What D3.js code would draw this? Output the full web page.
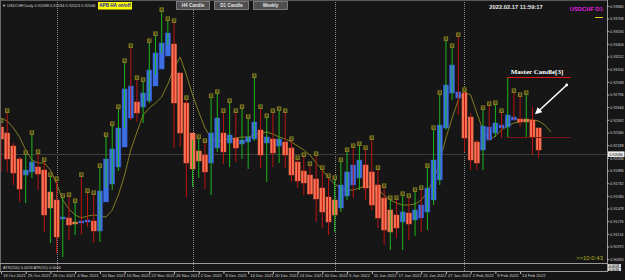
<!DOCTYPE html>
<html>
<head>
<meta charset="utf-8">
<script src="https://cdn.jsdelivr.net/npm/d3@7"></script>
<style>
html, body { margin: 0; padding: 0; background: #161616; }
svg { display: block; }
</style>
</head>
<body>
<div id="chart"></div>
<script>
// daily USDCHF bars, Heiken Ashi bodies + real high/low wicks
var haOpen = [
    0.92406, 0.92334, 0.92178, 0.92022, 0.91830, 0.91866, 0.91926, 0.91890, 0.91626, 0.91530,
    0.91302, 0.91314, 0.91266, 0.91254, 0.91266, 0.91278, 0.91158, 0.91506, 0.91722, 0.91926,
    0.92166, 0.92514, 0.92706, 0.92646, 0.92718, 0.92898, 0.93102, 0.93258, 0.93402, 0.93054,
    0.92694, 0.92334, 0.92118, 0.92070, 0.91974, 0.92154, 0.92334, 0.92214, 0.92274, 0.92202,
    0.92226, 0.92262, 0.92370, 0.92214, 0.92262, 0.92178, 0.92226, 0.92154, 0.91986, 0.91878,
    0.91830, 0.91782, 0.91674, 0.91566, 0.91530, 0.91434, 0.91578, 0.91710, 0.91794, 0.91950,
    0.91866, 0.91710, 0.91554, 0.91410, 0.91350, 0.91266, 0.91374, 0.91290, 0.91314, 0.91386,
    0.91530, 0.91770, 0.92394, 0.92814, 0.92754, 0.92814, 0.92526, 0.92226, 0.92130, 0.92250,
    0.92334, 0.92394, 0.92406, 0.92490, 0.92502, 0.92502, 0.92490, 0.92394
];
var haClose = [
    0.92262, 0.92022, 0.91854, 0.91662, 0.91890, 0.91986, 0.91842, 0.91350, 0.91434, 0.91086,
    0.91326, 0.91230, 0.91242, 0.91278, 0.91290, 0.91158, 0.91638, 0.92022, 0.92142, 0.92394,
    0.92862, 0.92898, 0.92574, 0.92814, 0.93090, 0.93294, 0.93414, 0.93534, 0.92694, 0.92334,
    0.91974, 0.91902, 0.91998, 0.91866, 0.92334, 0.92514, 0.92106, 0.92310, 0.92154, 0.92250,
    0.92286, 0.92466, 0.92070, 0.92286, 0.92094, 0.92262, 0.92070, 0.91830, 0.91758, 0.91734,
    0.91602, 0.91542, 0.91386, 0.91266, 0.91350, 0.91710, 0.91866, 0.91950, 0.92010, 0.91674,
    0.91470, 0.91314, 0.91170, 0.91146, 0.91194, 0.91386, 0.91242, 0.91410, 0.91470, 0.91674,
    0.92010, 0.92430, 0.92910, 0.93150, 0.92826, 0.92274, 0.92010, 0.91974, 0.92418, 0.92406,
    0.92454, 0.92430, 0.92550, 0.92526, 0.92466, 0.92466, 0.92286, 0.92130
];
var barHigh = [
    0.92454, 0.92574, 0.92214, 0.92046, 0.92070, 0.92310, 0.92082, 0.91986, 0.91806, 0.91758,
    0.91554, 0.91566, 0.91494, 0.91806, 0.91614, 0.91590, 0.91914, 0.92286, 0.92418, 0.92622,
    0.93174, 0.93354, 0.92970, 0.92946, 0.93414, 0.93498, 0.93786, 0.93678, 0.93654, 0.93054,
    0.92730, 0.92250, 0.92262, 0.92214, 0.92754, 0.92802, 0.92574, 0.92694, 0.92574, 0.92622,
    0.92502, 0.92994, 0.92622, 0.92514, 0.92574, 0.92598, 0.92574, 0.92238, 0.92010, 0.92046,
    0.91938, 0.92058, 0.91890, 0.91794, 0.91770, 0.91986, 0.92106, 0.92154, 0.92178, 0.92130,
    0.92250, 0.91890, 0.91674, 0.91530, 0.91530, 0.91578, 0.91554, 0.91626, 0.91650, 0.91914,
    0.92370, 0.92790, 0.93438, 0.93354, 0.93486, 0.92826, 0.92574, 0.92250, 0.92610, 0.92658,
    0.92670, 0.92574, 0.93006, 0.92814, 0.92766, 0.92790, 0.92646, 0.92394
];
var barLow = [
    0.91866, 0.91866, 0.91710, 0.91506, 0.91494, 0.91794, 0.91650, 0.91146, 0.91014, 0.90894,
    0.90846, 0.91050, 0.91110, 0.91110, 0.91206, 0.91014, 0.91026, 0.91674, 0.91650, 0.91878,
    0.92394, 0.92490, 0.92466, 0.92454, 0.92694, 0.93030, 0.93294, 0.93390, 0.92154, 0.92166,
    0.91566, 0.91686, 0.91794, 0.91662, 0.91590, 0.92106, 0.91962, 0.91926, 0.91986, 0.92022,
    0.91902, 0.92238, 0.91914, 0.91746, 0.91926, 0.91974, 0.91914, 0.91746, 0.91674, 0.91590,
    0.91590, 0.91266, 0.91194, 0.91110, 0.91146, 0.91386, 0.91530, 0.91554, 0.91650, 0.91530,
    0.91410, 0.91194, 0.90990, 0.90930, 0.91074, 0.90930, 0.91050, 0.91098, 0.91146, 0.91170,
    0.91470, 0.91710, 0.92370, 0.92730, 0.92550, 0.92106, 0.91890, 0.91890, 0.91890, 0.92250,
    0.92286, 0.92274, 0.92286, 0.92490, 0.92406, 0.92286, 0.92070, 0.92034
];
// g = green wick, r = red wick
var wickDir = ("rrrrggrrgr" + "grgrrrgggg" + "grrgggggrr" + "rggrggrgrg" + "ggrgrgrrrr" +
               "rrrrgggrgr" + "rrrgrgrgrg" + "ggggrrrrgr" + "grgrrgrr").split("");
var hasTag = [
    1, 1, 0, 0, 1, 1, 1, 1, 1, 1,
    1, 1, 1, 1, 1, 1, 1, 1, 1, 1,
    1, 1, 1, 1, 1, 1, 1, 1, 1, 0,
    1, 0, 1, 1, 1, 1, 1, 1, 1, 1,
    1, 1, 1, 1, 1, 1, 1, 1, 1, 1,
    1, 1, 1, 1, 1, 1, 1, 1, 1, 1,
    1, 1, 1, 1, 1, 1, 1, 1, 1, 1,
    1, 1, 1, 1, 1, 1, 0, 0, 1, 1,
    1, 1, 0, 1, 1, 1, 0, 0
];
var maValues = [
    0.92514, 0.92478, 0.92394, 0.92286, 0.92130, 0.92010, 0.91974, 0.91974, 0.91890, 0.91722,
    0.91530, 0.91422, 0.91350, 0.91314, 0.91338, 0.91350, 0.91338, 0.91326, 0.91410, 0.91590,
    0.91830, 0.92130, 0.92346, 0.92550, 0.92634, 0.92694, 0.92766, 0.92922, 0.93114, 0.93246,
    0.93030, 0.92790, 0.92586, 0.92394, 0.92274, 0.92226, 0.92250, 0.92262, 0.92274, 0.92286,
    0.92286, 0.92310, 0.92334, 0.92346, 0.92322, 0.92286, 0.92262, 0.92226, 0.92178, 0.92130,
    0.92070, 0.91974, 0.91890, 0.91794, 0.91722, 0.91674, 0.91650, 0.91650, 0.91674, 0.91698,
    0.91686, 0.91650, 0.91590, 0.91530, 0.91494, 0.91470, 0.91470, 0.91482, 0.91530, 0.91626,
    0.91770, 0.91986, 0.92274, 0.92514, 0.92730, 0.92826, 0.92790, 0.92574, 0.92370, 0.92250,
    0.92298, 0.92370, 0.92418, 0.92454, 0.92466, 0.92490, 0.92490, 0.92478, 0.92430, 0.92346
];

var dateLabels = ["19 Oct 2021", "25 Oct 2021", "29 Oct 2021", "4 Nov 2021", "10 Nov 2021",
    "16 Nov 2021", "22 Nov 2021", "26 Nov 2021", "2 Dec 2021", "8 Dec 2021", "14 Dec 2021",
    "20 Dec 2021", "24 Dec 2021", "30 Dec 2021", "5 Jan 2022", "11 Jan 2022", "17 Jan 2022",
    "21 Jan 2022", "27 Jan 2022", "2 Feb 2022", "8 Feb 2022", "14 Feb 2022"];
var dateLabelStep = 4;
var monthStarts = [9, 31, 54, 75];
var priceTicks = [0.93860, 0.93708, 0.93556, 0.93404, 0.93252, 0.93100, 0.92948, 0.92796,
    0.92644, 0.92492, 0.92340, 0.92188, 0.92036, 0.91884, 0.91732, 0.91580, 0.91428,
    0.91276, 0.91124, 0.90972, 0.90820];
var bidPrice = 0.92080;
var masterIndex = 82;
var atrValues = ["0.0058", "0.0046"];

var width = 625, height = 280;
var plotRight = 607, mainBottom = 263, subBottom = 271;
var upBody = "#3f6fe4", downBody = "#fb7656";
var upWick = "#1cb81c", downWick = "#bb1212";

var svg = d3.select("#chart").append("svg")
    .attr("width", width)
    .attr("height", height)
    .style("font-family", "'Liberation Sans', Arial, sans-serif");

svg.append("rect").attr("width", width).attr("height", height).attr("fill", "#161616");

var xScale = d3.scaleLinear().domain([0, 98]).range([1, 606.6]);
var yScale = d3.scaleLinear().domain([0.93930, 0.90930]).range([0, 250]);

var bars = haOpen.map(function (o, i) {
    return {i: i, open: o, close: haClose[i], high: barHigh[i], low: barLow[i], dir: wickDir[i], tag: hasTag[i]};
});

var defs = svg.append("defs");
defs.append("clipPath").attr("id", "mainClip")
    .append("rect").attr("x", 0).attr("y", 0).attr("width", plotRight).attr("height", mainBottom);
defs.append("marker")
    .attr("id", "arrowHead")
    .attr("markerUnits", "userSpaceOnUse")
    .attr("markerWidth", 7).attr("markerHeight", 7)
    .attr("refX", 5).attr("refY", 3.5)
    .attr("orient", "auto")
    .append("path").attr("d", "M0,0 L7,3.5 L0,7 Z").attr("fill", "#ffffff");

// period separators (first bar of each month)
svg.selectAll(".sep").data(monthStarts).enter().append("line")
    .attr("class", "sep")
    .attr("x1", function (d) { return Math.round(xScale(d)) + 0.5; })
    .attr("x2", function (d) { return Math.round(xScale(d)) + 0.5; })
    .attr("y1", 0).attr("y2", subBottom)
    .attr("stroke", "#8a8a8a").attr("stroke-width", 1).attr("stroke-dasharray", "1,1");

var main = svg.append("g").attr("clip-path", "url(#mainClip)");

// bid line
main.append("line")
    .attr("x1", 0).attr("x2", plotRight)
    .attr("y1", Math.round(yScale(bidPrice)) + 0.5).attr("y2", Math.round(yScale(bidPrice)) + 0.5)
    .attr("stroke", "#3d3d3d").attr("stroke-width", 1);

// moving average
var maLine = d3.line()
    .x(function (d, i) { return xScale(i); })
    .y(function (d) { return yScale(d); });
main.append("path").datum(maValues)
    .attr("d", maLine)
    .attr("fill", "none").attr("stroke", "#8e8822").attr("stroke-width", 0.9);

// HA bodies
main.selectAll(".body").data(bars).enter().append("rect")
    .attr("class", "body")
    .attr("x", function (d) { return xScale(d.i) - 2.5; })
    .attr("width", 5)
    .attr("y", function (d) { return yScale(Math.max(d.open, d.close)); })
    .attr("height", function (d) { return Math.max(1.2, Math.abs(yScale(d.open) - yScale(d.close))); })
    .attr("fill", function (d) { return d.close >= d.open ? upBody : downBody; })
    .attr("stroke", function (d) { return d.close >= d.open ? "#2f5bcc" : "#e2603f"; })
    .attr("stroke-width", 0.5);

// wicks
main.selectAll(".wick").data(bars).enter().append("line")
    .attr("class", "wick")
    .attr("x1", function (d) { return xScale(d.i); })
    .attr("x2", function (d) { return xScale(d.i); })
    .attr("y1", function (d) { return yScale(d.high); })
    .attr("y2", function (d) { return yScale(d.low); })
    .attr("stroke", function (d) { return d.dir === "g" ? upWick : downWick; })
    .attr("stroke-width", 1);

// small tags on top of the wicks
var tags = main.selectAll(".tag").data(bars.filter(function (d) { return d.tag; }))
    .enter().append("g").attr("class", "tag")
    .attr("transform", function (d) { return "translate(" + xScale(d.i) + "," + yScale(d.high) + ")"; });
tags.append("rect")
    .attr("x", -2.2).attr("y", -4.6).attr("width", 4.4).attr("height", 4.6)
    .attr("fill", "#7f7a24");
tags.append("text")
    .attr("x", 0).attr("y", -1)
    .attr("text-anchor", "middle")
    .attr("font-size", 4).attr("font-weight", "bold")
    .attr("fill", "#2a2806")
    .text("8");

// master candle box
var mb = bars[masterIndex];
var mx0 = xScale(masterIndex) - 1, mx1 = xScale(masterIndex) + 63;
main.append("line")
    .attr("x1", mx0).attr("x2", mx1)
    .attr("y1", yScale(mb.high) + 0.5).attr("y2", yScale(mb.high) + 0.5)
    .attr("stroke", "#e01010").attr("stroke-width", 1.2);
main.append("line")
    .attr("x1", mx0).attr("x2", mx1)
    .attr("y1", yScale(mb.low) + 0.5).attr("y2", yScale(mb.low) + 0.5)
    .attr("stroke", "#7e1515").attr("stroke-width", 1.2);
main.append("text")
    .attr("x", mx0 + 4).attr("y", yScale(mb.high) - 3)
    .attr("font-family", "'Liberation Serif', 'DejaVu Serif', serif")
    .attr("font-weight", "bold").attr("font-size", 7)
    .attr("fill", "#ffffff")
    .text("Master Candle[3]");
var target = bars[86];
main.append("circle")
    .attr("cx", mx1 - 4).attr("cy", yScale(mb.high) + 8).attr("r", 1.4).attr("fill", "#ffffff");
main.append("line")
    .attr("x1", mx1 - 4).attr("y1", yScale(mb.high) + 8)
    .attr("x2", xScale(target.i) + 4).attr("y2", yScale(target.high) + 6)
    .attr("stroke", "#ffffff").attr("stroke-width", 1.6)
    .attr("marker-end", "url(#arrowHead)");

// ask marker near the axis
svg.append("line")
    .attr("x1", 595).attr("x2", 603)
    .attr("y1", 17.5).attr("y2", 17.5)
    .attr("stroke", "#e0d020").attr("stroke-width", 1);

// frame and subwindow separators
svg.append("line").attr("x1", 0).attr("x2", plotRight).attr("y1", 0.5).attr("y2", 0.5)
    .attr("stroke", "#5a5a5a");
svg.append("line").attr("x1", 0.5).attr("x2", 0.5).attr("y1", 0).attr("y2", subBottom)
    .attr("stroke", "#6a6a6a");
svg.append("line").attr("x1", 0).attr("x2", plotRight).attr("y1", mainBottom + 0.5).attr("y2", mainBottom + 0.5)
    .attr("stroke", "#9a9a9a");
svg.append("line").attr("x1", 0).attr("x2", plotRight).attr("y1", subBottom + 0.5).attr("y2", subBottom + 0.5)
    .attr("stroke", "#9a9a9a");
svg.append("line").attr("x1", plotRight + 0.5).attr("x2", plotRight + 0.5).attr("y1", 0).attr("y2", subBottom + 1)
    .attr("stroke", "#9a9a9a");

// price axis
var yAxis = d3.axisRight(yScale)
    .tickValues(priceTicks)
    .tickSize(2)
    .tickPadding(1)
    .tickFormat(d3.format(".5f"));
var yAxisG = svg.append("g").attr("transform", "translate(" + plotRight + ",0)").call(yAxis);
yAxisG.select(".domain").remove();
yAxisG.selectAll("line").attr("stroke", "#bbbbbb");
yAxisG.selectAll("text").attr("fill", "#d0d0d0").attr("font-size", 3.8).attr("font-family", "'Liberation Sans', Arial, sans-serif");

// bid label
svg.append("rect")
    .attr("x", plotRight + 1).attr("y", yScale(bidPrice) - 2.8)
    .attr("width", 16.5).attr("height", 5.6).attr("fill", "#eeeeee");
svg.append("text")
    .attr("x", plotRight + 2.2).attr("y", yScale(bidPrice) + 1.4)
    .attr("font-size", 3.8).attr("fill", "#000000")
    .text(d3.format(".5f")(bidPrice));

// ATR values on the subwindow scale
svg.selectAll(".atrBox").data(atrValues).enter().append("rect")
    .attr("class", "atrBox")
    .attr("x", plotRight + 1).attr("y", function (d, i) { return mainBottom + 1 + i * 3.6; })
    .attr("width", 13).attr("height", 3.4).attr("fill", "#dddddd");
svg.selectAll(".atrVal").data(atrValues).enter().append("text")
    .attr("class", "atrVal")
    .attr("x", plotRight + 2).attr("y", function (d, i) { return mainBottom + 4 + i * 3.6; })
    .attr("font-size", 3.3).attr("fill", "#000000")
    .text(function (d) { return d; });

// date axis
var dateIdx = dateLabels.map(function (d, k) { return k * dateLabelStep; });
var xAxis = d3.axisBottom(xScale)
    .tickValues(dateIdx)
    .tickSize(2)
    .tickPadding(1)
    .tickFormat(function (d, k) { return dateLabels[k]; });
var xAxisG = svg.append("g").attr("transform", "translate(0," + (subBottom + 1) + ")").call(xAxis);
xAxisG.select(".domain").remove();
xAxisG.selectAll("line").attr("stroke", "#bbbbbb");
xAxisG.selectAll("text")
    .attr("text-anchor", "start").attr("x", 1.5).attr("y", 5).attr("dy", 0)
    .attr("fill", "#d0d0d0").attr("font-size", 4.2)
    .attr("font-family", "'Liberation Sans', Arial, sans-serif");

// subwindow caption
svg.append("text")
    .attr("x", 3).attr("y", mainBottom + 5.6)
    .attr("font-size", 3.9).attr("fill", "#cccccc")
    .text("ATR(200) 0.0058   ATR(10) 0.0046");

// header texts
svg.append("text")
    .attr("x", 2).attr("y", 7)
    .attr("font-size", 4).attr("fill", "#cccccc")
    .text("\u25BC USDCHF,Daily  0.92088 0.92184 0.92023 0.92066");

svg.append("rect")
    .attr("x", 98).attr("y", 2).attr("width", 34).attr("height", 7.5)
    .attr("fill", "#ffff00");
svg.append("text")
    .attr("x", 115).attr("y", 7.4)
    .attr("text-anchor", "middle")
    .attr("font-size", 4.6).attr("font-weight", "bold").attr("fill", "#1616a8")
    .text("APB HA on/off");

var buttons = [{label: "H4 Candle", x: 176, w: 33}, {label: "D1 Candle", x: 214, w: 34}, {label: "Weekly", x: 253, w: 34}];
svg.selectAll(".btn").data(buttons).enter().append("rect")
    .attr("class", "btn")
    .attr("x", function (d) { return d.x + 0.5; }).attr("y", 1.5)
    .attr("width", function (d) { return d.w; }).attr("height", 8)
    .attr("fill", "#4f4f4f").attr("stroke", "#8c8c8c").attr("stroke-width", 0.8);
svg.selectAll(".btnText").data(buttons).enter().append("text")
    .attr("class", "btnText")
    .attr("x", function (d) { return d.x + d.w / 2 + 0.5; }).attr("y", 7.2)
    .attr("text-anchor", "middle")
    .attr("font-size", 4.6).attr("font-weight", "bold").attr("fill", "#e2e2e2")
    .text(function (d) { return d.label; });

svg.append("text")
    .attr("x", 516).attr("y", 8.5)
    .attr("text-anchor", "middle")
    .attr("font-size", 5.8).attr("font-weight", "bold").attr("fill", "#e6e6e6")
    .text("2022.02.17 11:59:17");

svg.append("text")
    .attr("x", 603).attr("y", 11)
    .attr("text-anchor", "end")
    .attr("font-size", 5.8).attr("font-weight", "bold").attr("fill", "#e01ee0")
    .text("USDCHF D1");

svg.append("text")
    .attr("x", 603).attr("y", 260)
    .attr("text-anchor", "end")
    .attr("font-size", 6).attr("fill", "#b0ae22")
    .text(">>10:0:43");
</script>
</body>
</html>
